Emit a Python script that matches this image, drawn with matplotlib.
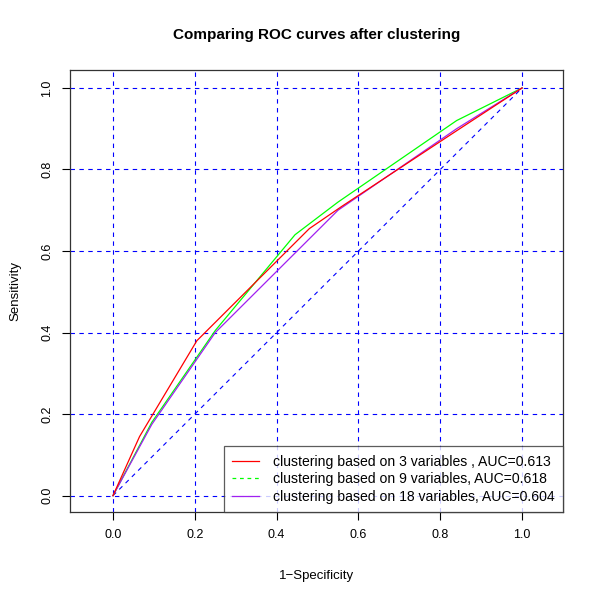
import matplotlib
matplotlib.use('Agg')
import matplotlib.pyplot as plt
from matplotlib.lines import Line2D

plt.rcParams['font.family'] = ['Liberation Sans', 'DejaVu Sans']

# ROC curves (1-specificity, sensitivity)
fpr_3 = [0.0, 0.065, 0.205, 0.48, 0.56, 0.84, 1.0]
tpr_3 = [0.0, 0.145, 0.38, 0.655, 0.71, 0.895, 1.0]
fpr_9 = [0.0, 0.095, 0.25, 0.445, 0.55, 0.84, 1.0]
tpr_9 = [0.0, 0.18, 0.405, 0.64, 0.72, 0.92, 1.0]
fpr_18 = [0.0, 0.095, 0.25, 0.55, 0.84, 1.0]
tpr_18 = [0.0, 0.175, 0.40, 0.70, 0.90, 1.0]
labels = ["clustering based on 3 variables , AUC=0.613",
          "clustering based on 9 variables, AUC=0.618",
          "clustering based on 18 variables, AUC=0.604"]
ticks = [0.0, 0.2, 0.4, 0.6, 0.8, 1.0]

fig = plt.figure(figsize=(6, 6), dpi=100)
ax = fig.add_axes([70 / 600, 88 / 600, 493 / 600, 442 / 600])

for t in ticks:
    ax.axvline(t, color='blue', ls=(0, (4, 4)), lw=0.8, zorder=1)
    ax.axhline(t, color='blue', ls=(0, (4, 4)), lw=0.8, zorder=1)
ax.plot([0, 1], [0, 1], color='blue', ls=(0, (4, 4)), lw=0.8, zorder=1)

ax.plot(fpr_3, tpr_3, color='red', lw=0.9, zorder=3)
ax.plot(fpr_9, tpr_9, color='#00ff00', lw=0.9, zorder=2)
ax.plot(fpr_18, tpr_18, color='#a020f0', lw=0.9, zorder=2)

# legend shows green as dashed
handles = [Line2D([], [], color='red', lw=0.9),
           Line2D([], [], color='#00ff00', lw=0.9, ls=(0, (3, 3))),
           Line2D([], [], color='#a020f0', lw=0.9)]
leg = ax.legend(handles, labels, loc='lower right',
                fontsize=10.1, frameon=True, fancybox=False, borderaxespad=0,
                handlelength=1.9, labelspacing=0.25, borderpad=0.6,
                handletextpad=1.0)
leg.get_frame().set_edgecolor('#333333')
leg.get_frame().set_linewidth(0.9)

ax.set_xlim(-0.105, 1.10)
ax.set_ylim(-0.04, 1.044)
ax.set_xticks(ticks)
ax.set_yticks(ticks)
ax.tick_params(direction='out', length=6, labelsize=9, width=0.8, pad=6)
for lbl in ax.get_yticklabels():
    lbl.set_rotation(90)
    lbl.set_va('center')
for s in ax.spines.values():
    s.set_linewidth(0.9)
    s.set_color('#333333')

ax.set_xlabel("1\u2212Specificity", fontsize=9.5, labelpad=21)
ax.set_ylabel("Sensitivity", fontsize=9.5, labelpad=14)
ax.set_title("Comparing ROC curves after clustering", fontsize=11,
             fontweight='bold', pad=22)

plt.savefig("out.png", dpi=100)
plt.close()
